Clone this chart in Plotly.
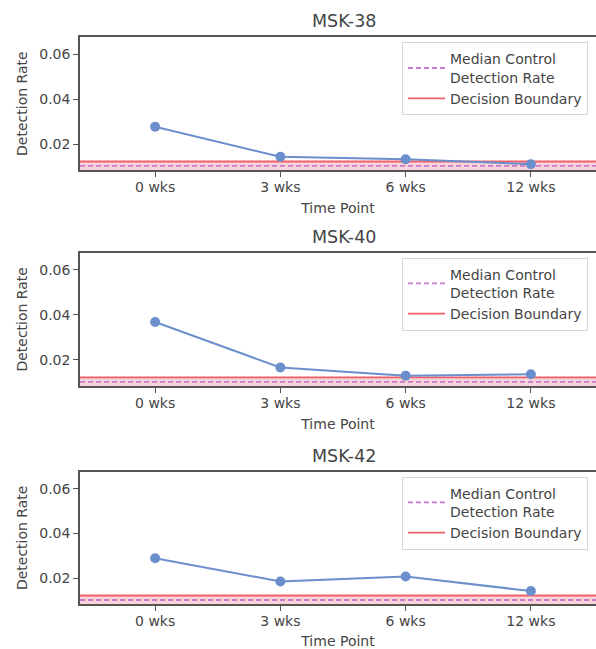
import plotly.graph_objects as go

time_points = ["0 wks", "3 wks", "6 wks", "12 wks"]
patients = ["MSK-38", "MSK-40", "MSK-42"]
rates = {
    "MSK-38": [0.0277, 0.0143, 0.0132, 0.0110],
    "MSK-40": [0.0368, 0.0166, 0.0130, 0.0136],
    "MSK-42": [0.0289, 0.0185, 0.0207, 0.0142],
}
median_control = 0.0102
decision_boundary = 0.0122
y_ticks = [0.02, 0.04, 0.06]
y_range = [0.0084, 0.0676]
x_range = [-0.6, 3.52]

W, H = 596, 649
# pixel layout of each subplot (top, bottom)
panels_px = [(37.3, 170.0), (252.7, 386.0), (471.7, 604.0)]
left_px = 80

FONT = "DejaVu Sans"
TXT = "#454545"
AX = "#555555"
BLUE = "#6b8fcc"
RED = "#f0606a"
PINK = "#f9d3d9"
ORCHID = "#c57ccb"

fig = go.Figure()
layout = dict(
    width=W, height=H,
    margin=dict(l=0, r=0, t=0, b=0, autoexpand=False),
    paper_bgcolor="white", plot_bgcolor="white",
    font=dict(family=FONT, size=14, color=TXT),
    showlegend=True,
    shapes=[], annotations=[],
)

for i, pid in enumerate(patients):
    n = "" if i == 0 else str(i + 1)
    xa, ya = "x" + n, "y" + n
    top, bot = panels_px[i]
    ydom = [1 - bot / H, 1 - top / H]
    leg = "legend" + n

    fig.add_trace(go.Scatter(
        x=time_points, y=rates[pid], mode="lines+markers",
        line=dict(color=BLUE, width=2),
        marker=dict(color=BLUE, size=10),
        xaxis=xa, yaxis=ya, showlegend=False, hoverinfo="skip"))

    fig.add_trace(go.Scatter(
        x=[None], y=[None], mode="lines", name="Median Control<br>Detection Rate",
        line=dict(color=ORCHID, width=1.8, dash="5px,3px"),
        xaxis=xa, yaxis=ya, legend=leg))
    fig.add_trace(go.Scatter(
        x=[None], y=[None], mode="lines", name="Decision Boundary",
        line=dict(color=RED, width=1.8),
        xaxis=xa, yaxis=ya, legend=leg))

    layout["xaxis" + n] = dict(
        domain=[left_px / W, 1.0], range=x_range, type="category",
        anchor=ya, showline=True, mirror=True, linecolor=AX, linewidth=1.5,
        ticks="outside", ticklen=5, tickcolor=AX, tickwidth=1.2,
        ticklabelstandoff=-2,
        showgrid=False, zeroline=False, automargin=False,
        tickfont=dict(size=14, color=TXT),
        title=dict(text="Time Point", font=dict(size=14, color=TXT), standoff=10),
    )
    layout["yaxis" + n] = dict(
        domain=ydom, range=y_range, anchor=xa,
        showline=True, mirror=False, linecolor=AX, linewidth=1.5,
        ticks="outside", ticklen=5, tickcolor=AX, tickwidth=1.2,
        tickvals=y_ticks, ticktext=[f"{v:.2f}" for v in y_ticks],
        showgrid=False, zeroline=False, automargin=False,
        tickfont=dict(size=14, color=TXT),
        title=dict(text="Detection Rate", font=dict(size=14, color=TXT), standoff=8),
    )
    layout["shapes"] += [
        dict(type="rect", xref=xa + " domain", yref=ya, x0=0, x1=1,
             y0=y_range[0], y1=decision_boundary, fillcolor=PINK,
             line=dict(width=0), layer="below"),
        dict(type="line", xref=xa + " domain", yref=ya, x0=0, x1=1,
             y0=median_control, y1=median_control,
             line=dict(color=ORCHID, width=1.8, dash="5px,3px"), layer="below"),
        dict(type="line", xref=xa + " domain", yref=ya, x0=0, x1=1,
             y0=decision_boundary, y1=decision_boundary,
             line=dict(color=RED, width=1.8), layer="below"),
    ]
    layout["annotations"].append(dict(
        text=pid, xref="paper", yref="paper", x=344 / W, y=1 - (top - 16) / H,
        xanchor="center", yanchor="middle", showarrow=False,
        font=dict(size=17.5, color=TXT)))
    layout[leg] = dict(
        x=402 / W, y=1 - (top + 5) / H, xanchor="left", yanchor="top",
        bgcolor="white", bordercolor="#d6d6d6", borderwidth=1,
        font=dict(size=14, color=TXT), tracegroupgap=0, itemwidth=37,
    )

fig.update_layout(**layout)
fig.write_html(
    "out.html",
    config={"displayModeBar": False},
    post_script="document.body.style.margin='0';document.body.style.overflow='hidden';",
)
